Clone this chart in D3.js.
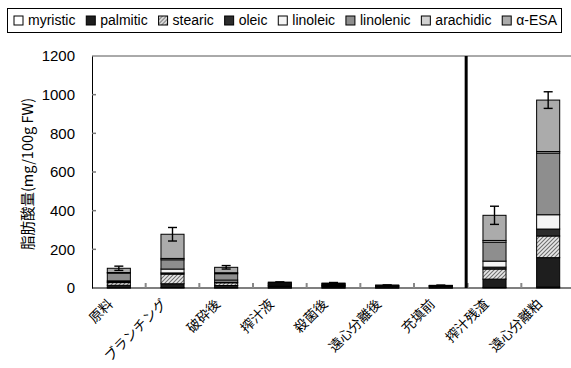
<!DOCTYPE html>
<html>
<head>
<meta charset="utf-8">
<script src="https://cdn.jsdelivr.net/npm/d3@7"></script>
<style>
  html, body { margin: 0; padding: 0; background: #fff; }
  svg { display: block; }
</style>
</head>
<body>
<svg id="chart" width="571" height="368"></svg>
<script>
// Fatty acid content per processing stage (mg/100g FW)
const categories = ["原料", "ブランチング", "破砕後", "搾汁液", "殺菌後", "遠心分離後", "充填前", "搾汁残渣", "遠心分離粕"];
const seriesNames = ["myristic", "palmitic", "stearic", "oleic", "linoleic", "linolenic", "arachidic", "α-ESA"];
const myristic  = [1, 2, 1, 0.5, 0.5, 0.3, 0.3, 3, 5];
const palmitic  = [13, 20, 12, 7, 6, 4, 4, 43, 152];
const stearic   = [14, 50, 14, 4, 4, 3, 3, 52, 112];
const oleic     = [4, 6, 4, 2, 2, 1, 1, 10, 36];
const linoleic  = [5, 20, 10, 4, 3, 2, 2, 31, 74];
const linolenic = [40, 48, 33, 7, 5, 3, 2, 98, 319];
const arachidic = [3, 7, 5, 1, 1, 0.5, 0.5, 9, 8];
const esa       = [22, 125, 28, 5, 4, 1, 1, 130, 266];
const errors    = [11, 35, 9, 1, 3, 1, 1, 47, 43];
const yTicks    = [0, 200, 400, 600, 800, 1000, 1200];
const yLabel    = "脂肪酸量(mg/100g FW)";

const seriesValues = [myristic, palmitic, stearic, oleic, linoleic, linolenic, arachidic, esa];
const rows = categories.map((c, i) => {
  const r = { cat: c };
  seriesNames.forEach((s, j) => r[s] = seriesValues[j][i]);
  r.err = errors[i];
  return r;
});

const svg = d3.select("#chart");
const defs = svg.append("defs");
const hatch = defs.append("pattern")
  .attr("id", "hatch").attr("patternUnits", "userSpaceOnUse")
  .attr("width", 4).attr("height", 4);
hatch.append("rect").attr("width", 4).attr("height", 4).attr("fill", "#e8e8e8");
hatch.append("path").attr("d", "M-1,1 l2,-2 M0,4 l4,-4 M3,5 l2,-2")
  .attr("stroke", "#707070").attr("stroke-width", 1.1);

const fills = {
  "myristic": "#ffffff",
  "palmitic": "#1e1e1e",
  "stearic": "url(#hatch)",
  "oleic": "#2c2c2c",
  "linoleic": "#f4f4f4",
  "linolenic": "#8e8e8e",
  "arachidic": "#d2d2d2",
  "α-ESA": "#ababab"
};

const margin = { left: 92, right: 571 + 4, top: 56, bottom: 288 };
const x = d3.scaleBand().domain(categories).range([margin.left, margin.right]).paddingInner(0.57).paddingOuter(0.285);
const y = d3.scaleLinear().domain([0, 1200]).range([margin.bottom, margin.top]);

// plot frame top
svg.append("line").attr("x1", margin.left).attr("x2", 571).attr("y1", y(1200)).attr("y2", y(1200))
  .attr("stroke", "#555").attr("stroke-width", 1);

// Y axis
const yAxis = svg.append("g").attr("transform", `translate(${margin.left},0)`)
  .call(d3.axisLeft(y).tickValues(yTicks).tickFormat(d3.format("d")).tickSize(0).tickPadding(17));
yAxis.select(".domain").attr("stroke", "#000");
yAxis.selectAll("text").attr("font-family", "Liberation Sans, Arial, sans-serif").attr("font-size", 15).attr("fill", "#000");
svg.append("g").selectAll("line").data(yTicks.slice(1, -1)).join("line")
  .attr("x1", margin.left).attr("x2", margin.left + 4)
  .attr("y1", d => y(d)).attr("y2", d => y(d))
  .attr("stroke", "#777").attr("stroke-width", 1.5);

// Y axis title
svg.append("text")
  .attr("transform", `translate(33,${(y(0) + y(1200)) / 2 + 2}) rotate(-90)`)
  .attr("text-anchor", "middle")
  .attr("font-family", "Noto Sans CJK JP, sans-serif").attr("font-size", 14.5)
  .text(yLabel);

// stacked bars
const stack = d3.stack().keys(seriesNames)(rows);
const bars = svg.append("g");
stack.forEach(layer => {
  bars.append("g").selectAll("rect").data(layer).join("rect")
    .attr("x", d => x(d.data.cat))
    .attr("width", x.bandwidth())
    .attr("y", d => y(d[1]))
    .attr("height", d => y(d[0]) - y(d[1]))
    .attr("fill", fills[layer.key])
    .attr("stroke", "#000").attr("stroke-width", 1);
});

// X axis
svg.append("line").attr("x1", margin.left).attr("x2", 571).attr("y1", y(0)).attr("y2", y(0))
  .attr("stroke", "#000").attr("stroke-width", 1.2);
// category boundary ticks
const bounds = categories.slice(1).map(c => x(c) - (x.step() - x.bandwidth()) / 2);
svg.append("g").selectAll("line").data(bounds).join("line")
  .attr("x1", d => d).attr("x2", d => d)
  .attr("y1", y(0)).attr("y2", y(0) - 5)
  .attr("stroke", "#888").attr("stroke-width", 2);
// separator between juice process and residues
svg.append("line")
  .attr("x1", bounds[6] - 1.5).attr("x2", bounds[6] - 1.5)
  .attr("y1", y(1200)).attr("y2", y(0))
  .attr("stroke", "#000").attr("stroke-width", 3);

// error bars
const eb = svg.append("g").attr("stroke", "#000").attr("stroke-width", 1.4);
rows.forEach(r => {
  const total = d3.sum(seriesNames, s => r[s]);
  const cx = x(r.cat) + x.bandwidth() / 2;
  eb.append("line").attr("x1", cx).attr("x2", cx).attr("y1", y(total - r.err)).attr("y2", y(total + r.err));
  [total - r.err, total + r.err].forEach(v => {
    eb.append("line").attr("x1", cx - 4.5).attr("x2", cx + 4.5).attr("y1", y(v)).attr("y2", y(v));
  });
});

// category labels
svg.append("g").selectAll("text").data(categories).join("text")
  .attr("transform", d => `translate(${x(d) + x.bandwidth() / 2 - 5},${y(0) + 17}) rotate(-45)`)
  .attr("text-anchor", "end")
  .attr("font-family", "Noto Sans CJK JP, sans-serif").attr("font-size", 13.5)
  .text(d => d);

// legend
const lg = svg.append("g");
lg.append("rect").attr("x", 7.5).attr("y", 8.5).attr("width", 554).attr("height", 24)
  .attr("fill", "#fff").attr("stroke", "#000").attr("stroke-width", 1);
const items = lg.selectAll("g.item").data(seriesNames).join("g").attr("class", "item");
items.append("rect").attr("width", 9).attr("height", 9)
  .attr("fill", d => fills[d]).attr("stroke", "#000").attr("stroke-width", 1);
items.append("text")
  .attr("x", 14).attr("y", 9)
  .attr("font-family", "Liberation Sans, Arial, sans-serif").attr("font-size", 14)
  .text(d => d);
const widths = [];
items.each(function () { widths.push(14 + d3.select(this).select("text").node().getComputedTextLength()); });
const start = 14, end = 557;
const gap = (end - start - d3.sum(widths)) / (widths.length - 1);
let cur = start;
items.each(function (d, i) {
  d3.select(this).attr("transform", `translate(${cur},${16})`);
  cur += widths[i] + gap;
});
</script>
</body>
</html>
